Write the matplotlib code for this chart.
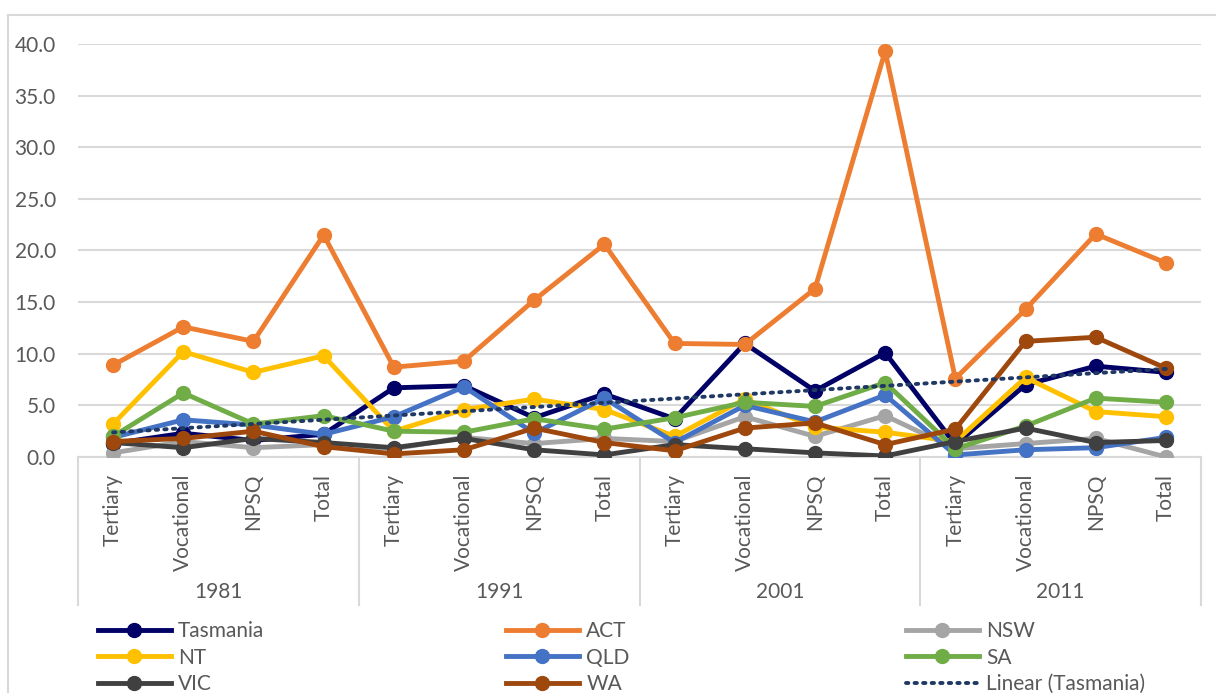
import matplotlib
matplotlib.use('Agg')
import matplotlib.pyplot as plt
import numpy as np
from matplotlib.lines import Line2D

plt.rcParams['font.family'] = ['Lato', 'DejaVu Sans']

years = ['1981', '1991', '2001', '2011']
quals = ['Tertiary', 'Vocational', 'NPSQ', 'Total']

tasmania = [1.3, 2.3, 1.6, 2.2, 6.7, 6.9, 3.8, 6.1, 3.7, 11.0, 6.4, 10.1, 1.2, 7.0, 8.8, 8.2]
act = [8.9, 12.6, 11.2, 21.5, 8.7, 9.3, 15.2, 20.6, 11.0, 10.9, 16.3, 39.3, 7.6, 14.3, 21.6, 18.8]
nsw = [0.4, 1.5, 0.9, 1.2, 0.8, 1.9, 1.3, 1.8, 1.5, 3.9, 2.0, 4.0, 0.8, 1.3, 1.8, 0.0]
nt = [3.2, 10.2, 8.2, 9.8, 2.5, 4.6, 5.6, 4.6, 2.0, 5.6, 2.9, 2.4, 1.5, 7.7, 4.4, 3.9]
qld = [1.9, 3.6, 3.1, 2.2, 3.9, 6.8, 2.3, 5.7, 1.4, 5.0, 3.4, 6.0, 0.2, 0.7, 0.9, 1.9]
sa = [2.0, 6.2, 3.2, 4.0, 2.5, 2.4, 3.7, 2.7, 3.8, 5.3, 4.9, 7.2, 0.8, 3.0, 5.7, 5.3]
vic = [1.4, 0.9, 1.8, 1.4, 0.9, 1.8, 0.7, 0.2, 1.2, 0.8, 0.4, 0.1, 1.5, 2.8, 1.4, 1.6]
wa = [1.5, 1.8, 2.5, 1.0, 0.3, 0.7, 2.8, 1.4, 0.6, 2.8, 3.3, 1.2, 2.7, 11.2, 11.6, 8.6]

series = [
    ('Tasmania', tasmania, '#000066'),
    ('ACT', act, '#ED7D31'),
    ('NSW', nsw, '#A5A5A5'),
    ('NT', nt, '#FFC000'),
    ('QLD', qld, '#4472C4'),
    ('SA', sa, '#70AD47'),
    ('VIC', vic, '#404040'),
    ('WA', wa, '#9E480E'),
]

W, H = 1216, 693
fig = plt.figure(figsize=(W / 100, H / 100), dpi=100)
ax = fig.add_axes([78 / W, 1 - 457 / H, (1201 - 78) / W, (457 - 44) / H])

x = np.arange(len(tasmania))
handles = {}
for name, vals, col in series:
    h, = ax.plot(x, vals, color=col, lw=3.5, marker='o', markersize=10,
                 solid_joinstyle='round', label=name, zorder=3)
    handles[name] = h

# linear trend for Tasmania
coef = np.polyfit(x, tasmania, 1)
trend, = ax.plot(x, np.polyval(coef, x), color='#1F3864', lw=2.8,
                 linestyle=(0, (0.6, 1.6)), dash_capstyle='round', zorder=4,
                 label='Linear (Tasmania)')

ax.set_xlim(-0.5, len(x) - 0.5)
ax.set_ylim(0, 40)
ax.set_yticks(np.arange(0, 41, 5))
ax.set_yticklabels([f'{v:.1f}' for v in np.arange(0, 41, 5)])
ax.yaxis.grid(True, color='#D9D9D9', lw=1.5)
ax.set_axisbelow(True)
for s in ['top', 'right', 'left']:
    ax.spines[s].set_visible(False)
ax.spines['bottom'].set_color('#D9D9D9')
ax.spines['bottom'].set_linewidth(1.5)
ax.tick_params(axis='y', length=0, pad=16, labelsize=15, labelcolor='#595959')
ax.set_xticks(x)
ax.set_xticklabels(quals * len(years), rotation=90, va='top')
ax.tick_params(axis='x', length=0, pad=12, labelsize=15, labelcolor='#595959')

# group separators and year labels
trans = ax.get_xaxis_transform()
sep_bottom = -(605 - 457) / (457 - 44)
for b in np.arange(-0.5, len(x), 4):
    ax.plot([b, b], [0, sep_bottom], transform=trans, color='#D9D9D9',
            lw=1.5, clip_on=False)
for i, yr in enumerate(years):
    ax.text(i * 4 + 1.5, -(592 - 457) / (457 - 44), yr, transform=trans,
            ha='center', va='center', fontsize=15, color='#595959')

# legend, three columns laid out row-wise
cols = [['Tasmania', 'NT', 'VIC'], ['ACT', 'QLD', 'WA'], ['NSW', 'SA', None]]
col_x = [98, 506, 906]
for cx, names in zip(col_x, cols):
    hs = [handles[n] if n else trend for n in names]
    labs = [n if n else 'Linear (Tasmania)' for n in names]
    fig.legend(hs, labs, loc='upper left', bbox_to_anchor=(cx / W, 1 - 621 / H),
               frameon=False, fontsize=15, labelcolor='#595959',
               handlelength=3.5, handletextpad=0.35, labelspacing=0.32,
               borderpad=0, borderaxespad=0)

# chart frame
fig.add_artist(Line2D([8 / W, 8 / W], [0, 1 - 15 / H], color='#D9D9D9', lw=1.5))
fig.add_artist(Line2D([8 / W, 1], [1 - 15 / H, 1 - 15 / H], color='#D9D9D9', lw=1.5))

fig.savefig('out.png', dpi=100)
